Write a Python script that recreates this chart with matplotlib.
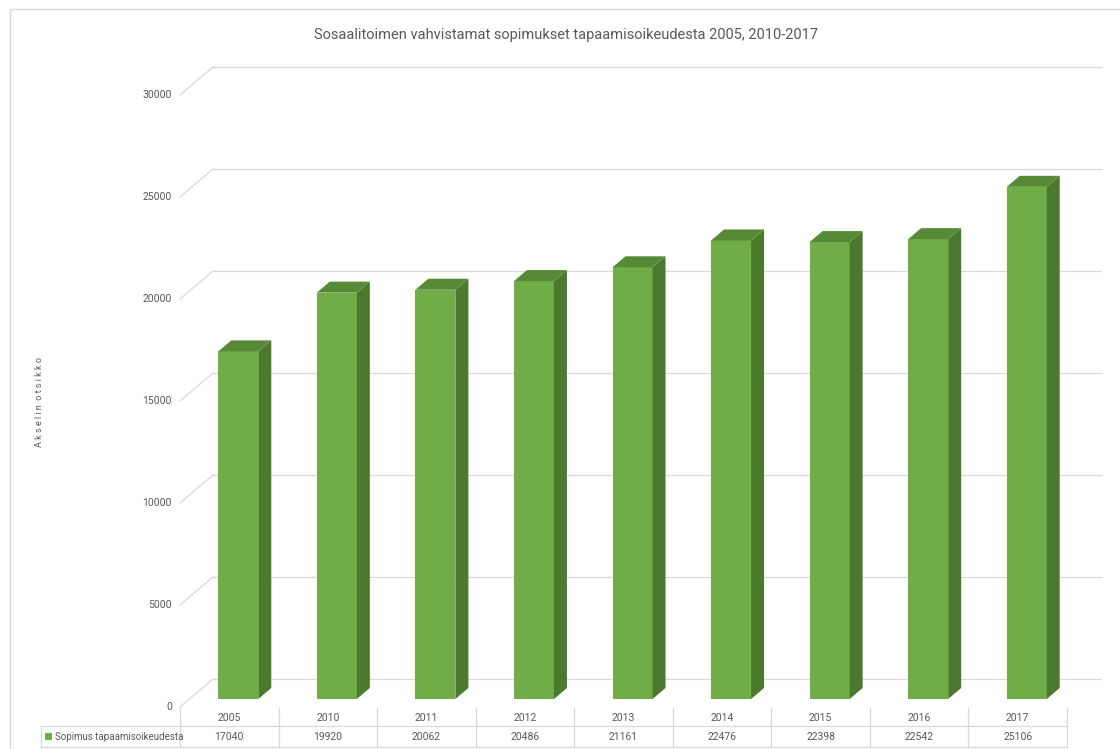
import matplotlib
matplotlib.use('Agg')
import matplotlib.pyplot as plt
from matplotlib.patches import Polygon, Rectangle
from matplotlib.lines import Line2D

plt.rcParams['font.family'] = ['Roboto', 'DejaVu Sans']

years = ['2005', '2010', '2011', '2012', '2013', '2014', '2015', '2016', '2017']
values = [17040, 19920, 20062, 20486, 21161, 22476, 22398, 22542, 25106]
series_name = 'Sopimus tapaamisoikeudesta'
title = 'Sosaalitoimen vahvistamat sopimukset tapaamisoikeudesta 2005, 2010-2017'
y_ticks = [0, 5000, 10000, 15000, 20000, 25000, 30000]

W, H = 1120, 749
fig = plt.figure(figsize=(W / 100, H / 100), dpi=100)

# plot area in pixels: x from 180 to 1067 (9 columns), y: 0 -> 707px, 30000 -> 95px
px_left, px_right = 180, 1067
px_zero, px_top = 707, 95
ax = fig.add_axes([px_left / W, 1 - px_zero / H, (px_right - px_left) / W, (px_zero - px_top) / H])
ax.set_xlim(-0.5, len(years) - 0.5)
ax.set_ylim(0, 30000)
ax.axis('off')

col_px = (px_right - px_left) / len(years)
val_px = (px_zero - px_top) / 30000.0


def dx(p):
    return p / col_px


def dy(p):
    return p / val_px


grid_c = '#d9d9d9'
text_c = '#595959'

# back wall gridlines + diagonal side lines (behind the columns)
back_dx, back_dy = dx(33), dy(28)
x_front = -0.5
x_end = dx(1101 - px_left) - 0.5
for t in y_ticks:
    ax.add_line(Line2D([x_front, x_front + back_dx], [t, t + back_dy], color=grid_c, lw=0.9,
                       clip_on=False, zorder=0.5))
    ax.add_line(Line2D([x_front + back_dx, x_end], [t + back_dy, t + back_dy], color=grid_c, lw=0.9,
                       clip_on=False, zorder=0.5))
    ax.text(x_front - dx(8), t, str(t), ha='right', va='center', fontsize=7.5, color=text_c)

# 3d columns
front_c, side_c, top_c = '#70ad47', '#4b7a2e', '#568a36'
bw = dx(40)
off = dx(9)
base = dy(8)
sdx, sdy = dx(13), dy(11)
for i, v in enumerate(values):
    x0 = i + off - bw / 2
    x1 = x0 + bw
    y0 = base
    y1 = base + v
    ax.add_patch(Rectangle((x0, y0), bw, v, facecolor=front_c, edgecolor='none', clip_on=False, zorder=2))
    ax.add_patch(Polygon([(x1, y0), (x1 + sdx, y0 + sdy), (x1 + sdx, y1 + sdy), (x1, y1)],
                         closed=True, facecolor=side_c, edgecolor='none', clip_on=False, zorder=2))
    ax.add_patch(Polygon([(x0, y1), (x1, y1), (x1 + sdx, y1 + sdy), (x0 + sdx, y1 + sdy)],
                         closed=True, facecolor=top_c, edgecolor='none', clip_on=False, zorder=2))

# data table
row1_top, row_mid, row_bot = 708, 726, 747
tbl_left = 41


def ydata(p):
    return (px_zero - p) / val_px


def xdata(p):
    return (p - px_left) / col_px - 0.5


tc = '#d9d9d9'
for k in range(len(years) + 1):
    ax.add_line(Line2D([k - 0.5, k - 0.5], [ydata(row1_top), ydata(row_bot)], color=tc, lw=0.9, clip_on=False))
ax.add_line(Line2D([xdata(tbl_left), len(years) - 0.5], [ydata(row_mid)] * 2, color=tc, lw=0.9, clip_on=False))
ax.add_line(Line2D([xdata(tbl_left), len(years) - 0.5], [ydata(row_bot)] * 2, color=tc, lw=0.9, clip_on=False))
ax.add_line(Line2D([xdata(tbl_left)] * 2, [ydata(row_mid), ydata(row_bot)], color=tc, lw=0.9, clip_on=False))

for i, (yr, v) in enumerate(zip(years, values)):
    ax.text(i, ydata((row1_top + row_mid) / 2 + 1), yr, ha='center', va='center', fontsize=7.5, color=text_c)
    ax.text(i, ydata((row_mid + row_bot) / 2), str(v), ha='center', va='center', fontsize=7.5, color=text_c)

ax.add_patch(Rectangle((xdata(tbl_left + 4), ydata(740)), dx(7), dy(7), facecolor=front_c,
                       edgecolor='none', clip_on=False))
ax.text(xdata(tbl_left + 14), ydata((row_mid + row_bot) / 2), series_name, ha='left', va='center',
        fontsize=7, color=text_c)

# title, axis title, chart border
fig.text(566 / W, 1 - 35 / H, title, ha='center', va='center', fontsize=10.5, color=text_c)
fig.text(40 / W, 1 - 402 / H, 'A k s e l i n  o t s i k k o', rotation=90, ha='center', va='center',
         fontsize=6.5, color=text_c)
fig.add_artist(Rectangle((10 / W, -0.01), 1.1, 1 - 9 / H + 0.01, transform=fig.transFigure,
                         facecolor='none', edgecolor='#d9d9d9', lw=1))

fig.savefig('out.png', dpi=100)
